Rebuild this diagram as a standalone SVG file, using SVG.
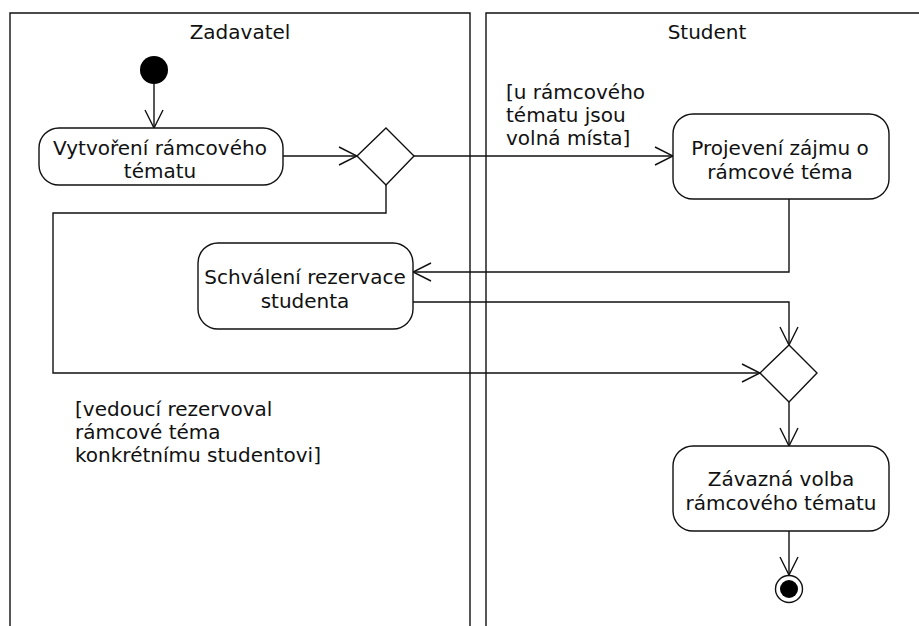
<svg xmlns="http://www.w3.org/2000/svg" width="919" height="626" viewBox="0 0 919 626">
  <defs>
    <style>
      text { font-family: "DejaVu Sans", "Liberation Sans", sans-serif; font-size: 20px; fill: #111; }
      .c { text-anchor: middle; }
      .lane { fill: none; stroke: #111; stroke-width: 1.4; }
      .act { fill: #fff; stroke: #111; stroke-width: 1.4; }
      .dec { fill: #fff; stroke: #111; stroke-width: 1.4; }
      .edge { fill: none; stroke: #111; stroke-width: 1.4; marker-end: url(#open); }
    </style>
    <marker id="open" viewBox="0 0 20 20" refX="19" refY="10" markerWidth="20" markerHeight="20" markerUnits="userSpaceOnUse" orient="auto">
      <path d="M1,1 L19,10 L1,19" fill="none" stroke="#111" stroke-width="1.4"/>
    </marker>
  </defs>

  <!-- swimlanes -->
  <g id="lane-zadavatel">
    <path class="lane" d="M10,640 L10,13 L470,13 L470,640"/>
    <text class="c" x="240" y="39">Zadavatel</text>
  </g>
  <g id="lane-student">
    <path class="lane" d="M486,640 L486,13 L930,13"/>
    <text class="c" x="707" y="39">Student</text>
  </g>

  <!-- connectors -->
  <g id="connectors">
    <path class="edge" d="M154,84 L154,128"/>
    <path class="edge" d="M283,156 L357,156"/>
    <path class="edge" d="M414,156 L673,156"/>
    <path class="edge" d="M386,185 L386,213 L53,213 L53,373 L760,373"/>
    <path class="edge" d="M789,199 L789,272 L413,272"/>
    <path class="edge" d="M413,302 L789,302 L789,345"/>
    <path class="edge" d="M789,402 L789,446"/>
    <path class="edge" d="M789,531 L789,575"/>
    <text x="506" y="99">[u rámcového</text>
    <text x="506" y="122">tématu jsou</text>
    <text x="506" y="145">volná místa]</text>
    <text x="75" y="416">[vedoucí rezervoval</text>
    <text x="75" y="439">rámcové téma</text>
    <text x="75" y="462">konkrétnímu studentovi]</text>
  </g>

  <!-- nodes -->
  <g id="start">
    <circle cx="154" cy="70" r="14" fill="#000"/>
  </g>
  <g id="vytvoreni">
    <rect class="act" x="39" y="128" width="244" height="57" rx="20" ry="20"/>
    <text class="c" x="160" y="155">Vytvoření rámcového</text>
    <text class="c" x="160" y="178">tématu</text>
  </g>
  <g id="decision1">
    <polygon class="dec" points="386,128 414,156 386,185 357,156"/>
  </g>
  <g id="projeveni">
    <rect class="act" x="673" y="114" width="216" height="85" rx="20" ry="20"/>
    <text class="c" x="780" y="155">Projevení zájmu o</text>
    <text class="c" x="780" y="179">rámcové téma</text>
  </g>
  <g id="schvaleni">
    <rect class="act" x="198" y="243" width="215" height="86" rx="20" ry="20"/>
    <text class="c" x="305" y="284">Schválení rezervace</text>
    <text class="c" x="305" y="308">studenta</text>
  </g>
  <g id="decision2">
    <polygon class="dec" points="789,345 817,373 789,402 760,373"/>
  </g>
  <g id="zavazna">
    <rect class="act" x="673" y="446" width="216" height="85" rx="20" ry="20"/>
    <text class="c" x="781" y="486">Závazná volba</text>
    <text class="c" x="781" y="510">rámcového tématu</text>
  </g>
  <g id="end">
    <circle cx="789" cy="589" r="13.5" fill="#fff" stroke="#111" stroke-width="1.4"/>
    <circle cx="789" cy="589" r="9" fill="#000"/>
  </g>
</svg>
